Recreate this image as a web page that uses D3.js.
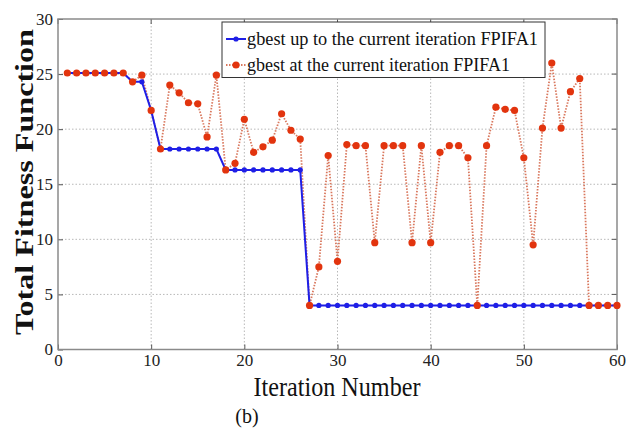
<!DOCTYPE html>
<html>
<head>
<meta charset="utf-8">
<script src="https://cdn.jsdelivr.net/npm/d3@7"></script>
<style>
  body { margin: 0; background: #fff; }
  svg { display: block; }
  .tick text { font-family: 'Liberation Serif', 'Times New Roman', serif; font-size: 17px; fill: #222; }
</style>
</head>
<body>
<div id="chart"></div>
<script>
// iterations 1..60
const iterations = d3.range(1, 61)

// gbest up to the current iteration
const gbestUpTo = [
    25.1, 25.1, 25.1, 25.1, 25.1, 25.1, 25.1, 24.3, 24.3, 21.7,
    18.2, 18.2, 18.2, 18.2, 18.2, 18.2, 18.2, 16.3, 16.3, 16.3,
    16.3, 16.3, 16.3, 16.3, 16.3, 16.3, 4.0, 4.0, 4.0, 4.0,
    4.0, 4.0, 4.0, 4.0, 4.0, 4.0, 4.0, 4.0, 4.0, 4.0,
    4.0, 4.0, 4.0, 4.0, 4.0, 4.0, 4.0, 4.0, 4.0, 4.0,
    4.0, 4.0, 4.0, 4.0, 4.0, 4.0, 4.0, 4.0, 4.0, 4.0
]

// gbest at the current iteration
const gbestAt = [
    25.1, 25.1, 25.1, 25.1, 25.1, 25.1, 25.1, 24.3, 24.9, 21.7,
    18.2, 24.0, 23.3, 22.4, 22.3, 19.3, 24.9, 16.3, 16.9, 20.9,
    17.9, 18.4, 19.0, 21.4, 19.9, 19.1, 4.0, 7.5, 17.6, 8.0,
    18.6, 18.5, 18.5, 9.7, 18.5, 18.5, 18.5, 9.7, 18.5, 9.7,
    17.9, 18.5, 18.5, 17.4, 4.0, 18.5, 22.0, 21.8, 21.7, 17.4,
    9.5, 20.1, 26.0, 20.1, 23.4, 24.6, 4.0, 4.0, 4.0, 4.0
]

const xTicks = [0, 10, 20, 30, 40, 50, 60]
const yTicks = [0, 5, 10, 15, 20, 25, 30]

const seriesNames = [
    'gbest up to the current iteration FPIFA1',
    'gbest at the current iteration FPIFA1'
]

const W = 632, H = 432
const margin = { top: 19, right: 15, bottom: 82.5, left: 58 }
const width = W - margin.left - margin.right
const height = H - margin.top - margin.bottom

const serif = "'Liberation Serif', 'Times New Roman', serif"
const blue = '#1f1fe6'
const red = '#e2340e'
const redLine = '#d9785e'

const xScale = d3.scaleLinear().domain([0, 60]).range([0, width])
const yScale = d3.scaleLinear().domain([0, 30]).range([height, 0])

const svg = d3.select('#chart').append('svg')
    .attr('width', W)
    .attr('height', H)

const g = svg.append('g')
    .attr('transform', `translate(${margin.left},${margin.top})`)

// grid
g.append('g')
    .selectAll('line')
    .data(xTicks.slice(1, -1))
    .enter().append('line')
    .attr('x1', d => xScale(d)).attr('x2', d => xScale(d))
    .attr('y1', 0).attr('y2', height)
    .attr('stroke', '#b8b8b8')
    .attr('stroke-dasharray', '1.5,2')

g.append('g')
    .selectAll('line')
    .data(yTicks.slice(1, -1))
    .enter().append('line')
    .attr('y1', d => yScale(d)).attr('y2', d => yScale(d))
    .attr('x1', 0).attr('x2', width)
    .attr('stroke', '#b8b8b8')
    .attr('stroke-dasharray', '1.5,2')

// axes (ticks inward)
const xAxis = d3.axisBottom(xScale).tickValues(xTicks).tickSizeInner(-5).tickSizeOuter(0).tickPadding(4)
const yAxis = d3.axisLeft(yScale).tickValues(yTicks).tickSizeInner(-5).tickSizeOuter(0).tickPadding(5)

const gx = g.append('g')
    .attr('transform', `translate(0,${height})`)
    .call(xAxis)
gx.select('.domain').remove()
gx.selectAll('.tick line').attr('stroke', '#555')

const gy = g.append('g').call(yAxis)
gy.select('.domain').remove()
gy.selectAll('.tick line').attr('stroke', '#555')

// top / right ticks
g.append('g')
    .selectAll('line')
    .data(xTicks)
    .enter().append('line')
    .attr('x1', d => xScale(d)).attr('x2', d => xScale(d))
    .attr('y1', 0).attr('y2', 5)
    .attr('stroke', '#555')
g.append('g')
    .selectAll('line')
    .data(yTicks)
    .enter().append('line')
    .attr('y1', d => yScale(d)).attr('y2', d => yScale(d))
    .attr('x1', width).attr('x2', width - 5)
    .attr('stroke', '#555')

// frame
g.append('rect')
    .attr('width', width)
    .attr('height', height)
    .attr('fill', 'none')
    .attr('stroke', '#8a8a8a')
    .attr('stroke-width', 1.5)

const line = d3.line()
    .x((d, i) => xScale(iterations[i]))
    .y(d => yScale(d))

// red: gbest at current iteration
g.append('path')
    .datum(gbestAt)
    .attr('d', line)
    .attr('fill', 'none')
    .attr('stroke', redLine)
    .attr('stroke-width', 1.8)
    .attr('stroke-dasharray', '1.5,1.5')

// blue: gbest up to current iteration
g.append('path')
    .datum(gbestUpTo)
    .attr('d', line)
    .attr('fill', 'none')
    .attr('stroke', blue)
    .attr('stroke-width', 2)

g.selectAll('.dot-red')
    .data(gbestAt)
    .enter().append('circle')
    .attr('class', 'dot-red')
    .attr('cx', (d, i) => xScale(iterations[i]))
    .attr('cy', d => yScale(d))
    .attr('r', 3.6)
    .attr('fill', red)

// blue dots only where not hidden under a red one
g.selectAll('.dot-blue')
    .data(gbestUpTo.map((v, i) => ({ x: iterations[i], y: v, same: Math.abs(gbestAt[i] - v) < 0.05 })))
    .enter().append('circle')
    .attr('class', 'dot-blue')
    .attr('cx', d => xScale(d.x))
    .attr('cy', d => yScale(d.y))
    .attr('r', d => d.same ? 0 : 2.6)
    .attr('fill', blue)

// legend
const legend = svg.append('g')
    .attr('transform', 'translate(222,22)')

legend.append('rect')
    .attr('width', 323)
    .attr('height', 55.5)
    .attr('fill', '#fff')
    .attr('stroke', '#333')
    .attr('stroke-width', 1)

const legendColors = [blue, redLine]
const legendDot = [blue, red]
const legendRow = legend.selectAll('.legend')
    .data(seriesNames)
    .enter().append('g')
    .attr('class', 'legend')
    .attr('transform', (d, i) => `translate(0,${17 + i * 26})`)

legendRow.append('line')
    .attr('x1', 4).attr('x2', 24)
    .attr('stroke', (d, i) => legendColors[i])
    .attr('stroke-width', (d, i) => i === 0 ? 2 : 1.8)
    .attr('stroke-dasharray', (d, i) => i === 0 ? null : '1.5,1.5')

legendRow.append('circle')
    .attr('cx', 14)
    .attr('r', (d, i) => i === 0 ? 2.6 : 3.6)
    .attr('fill', (d, i) => legendDot[i])

legendRow.append('text')
    .attr('x', 25)
    .attr('dy', '0.33em')
    .style('font-family', serif)
    .style('font-size', '19px')
    .attr('textLength', (d, i) => i === 0 ? 291 : 263)
    .attr('lengthAdjust', 'spacingAndGlyphs')
    .attr('fill', '#111')
    .text(d => d)

// axis titles
svg.append('text')
    .attr('transform', 'translate(33,182) rotate(-90)')
    .attr('text-anchor', 'middle')
    .style('font-family', serif)
    .style('font-size', '26px')
    .style('font-weight', 'bold')
    .attr('textLength', 306)
    .attr('lengthAdjust', 'spacingAndGlyphs')
    .attr('fill', '#111')
    .text('Total Fitness Function')

svg.append('text')
    .attr('x', 337)
    .attr('y', 396)
    .attr('text-anchor', 'middle')
    .style('font-family', serif)
    .style('font-size', '28px')
    .attr('textLength', 167)
    .attr('lengthAdjust', 'spacingAndGlyphs')
    .attr('fill', '#111')
    .text('Iteration Number')

svg.append('text')
    .attr('x', 247)
    .attr('y', 423)
    .attr('text-anchor', 'middle')
    .style('font-family', serif)
    .style('font-size', '20px')
    .attr('fill', '#111')
    .text('(b)')
</script>
</body>
</html>
